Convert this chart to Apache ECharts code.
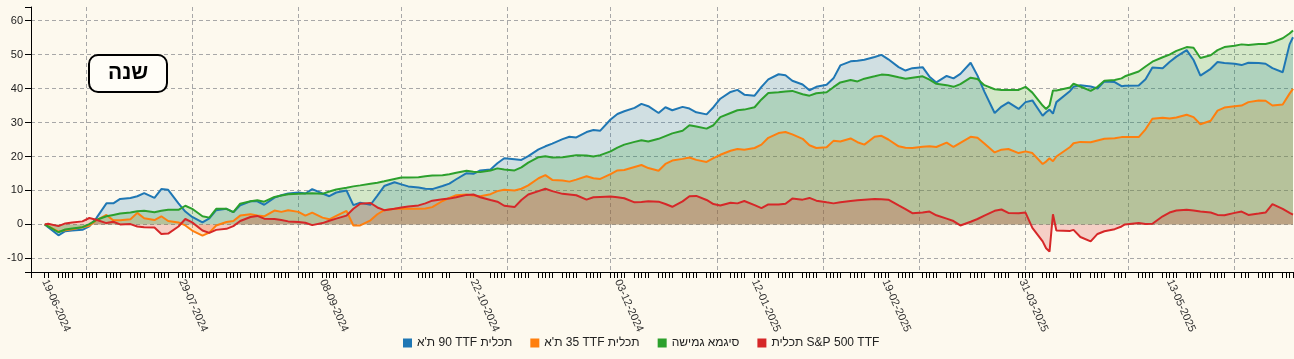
<!DOCTYPE html>
<html><head><meta charset="utf-8">
<script src="https://cdn.jsdelivr.net/npm/echarts@6/dist/echarts.min.js"></script>
<style>html,body{margin:0;padding:0;background:#fdf9ee}#c{width:1294px;height:359px}</style>
</head><body><div id="c"></div>
<script>
const dates = ['2024-06-19','2024-06-20','2024-06-23','2024-06-25','2024-06-27','2024-06-30','2024-07-02','2024-07-04','2024-07-07','2024-07-09','2024-07-11','2024-07-14','2024-07-16','2024-07-18','2024-07-21','2024-07-23','2024-07-25','2024-07-28','2024-07-30','2024-08-01','2024-08-04','2024-08-06','2024-08-08','2024-08-11','2024-08-13','2024-08-15','2024-08-18','2024-08-20','2024-08-22','2024-08-25','2024-08-27','2024-08-29','2024-09-01','2024-09-03','2024-09-05','2024-09-08','2024-09-10','2024-09-12','2024-09-15','2024-09-17','2024-09-19','2024-09-22','2024-09-24','2024-09-26','2024-09-29','2024-10-01','2024-10-03','2024-10-06','2024-10-08','2024-10-10','2024-10-13','2024-10-15','2024-10-17','2024-10-20','2024-10-22','2024-10-24','2024-10-27','2024-10-29','2024-10-31','2024-11-03','2024-11-05','2024-11-07','2024-11-10','2024-11-12','2024-11-14','2024-11-17','2024-11-19','2024-11-21','2024-11-24','2024-11-26','2024-11-28','2024-12-01','2024-12-03','2024-12-05','2024-12-08','2024-12-10','2024-12-12','2024-12-15','2024-12-17','2024-12-19','2024-12-22','2024-12-24','2024-12-26','2024-12-29','2024-12-31','2025-01-02','2025-01-05','2025-01-07','2025-01-09','2025-01-12','2025-01-14','2025-01-16','2025-01-19','2025-01-21','2025-01-23','2025-01-26','2025-01-28','2025-01-30','2025-02-02','2025-02-04','2025-02-06','2025-02-09','2025-02-11','2025-02-13','2025-02-16','2025-02-18','2025-02-20','2025-02-23','2025-02-25','2025-02-27','2025-03-02','2025-03-04','2025-03-06','2025-03-09','2025-03-11','2025-03-13','2025-03-16','2025-03-18','2025-03-20','2025-03-23','2025-03-25','2025-03-27','2025-03-30','2025-04-01','2025-04-03','2025-04-06','2025-04-07','2025-04-08','2025-04-09','2025-04-10','2025-04-14','2025-04-15','2025-04-17','2025-04-20','2025-04-22','2025-04-24','2025-04-27','2025-04-29','2025-04-30','2025-05-04','2025-05-06','2025-05-08','2025-05-11','2025-05-13','2025-05-15','2025-05-18','2025-05-20','2025-05-22','2025-05-25','2025-05-27','2025-05-29','2025-06-01','2025-06-03','2025-06-05','2025-06-08','2025-06-10','2025-06-12','2025-06-15','2025-06-17','2025-06-18'];

const ta90 = [0,-0.8,-3.2,-2.0,-1.8,-1.6,-0.6,1.8,6.2,6.2,7.5,7.8,8.3,9.2,7.8,10.4,10.2,6.2,3.8,2.2,0.6,1.8,4.2,4.6,3.6,5.6,6.8,6.8,5.8,7.9,8.6,9.1,9.4,9.1,10.4,9.1,8.3,9.4,10.0,5.7,6.4,5.8,8.5,11.3,12.4,11.8,11.2,10.9,10.5,10.4,11.3,12.0,13.3,15.1,14.9,15.9,16.2,18.0,19.5,19.2,19.0,20.1,22.1,23.0,23.8,25.1,25.8,25.6,27.2,27.8,27.6,30.9,32.5,33.3,34.3,35.5,34.8,32.8,34.5,33.6,34.6,34.1,33.0,32.4,34.5,37.0,39.0,39.6,38.2,37.9,40.5,42.7,44.2,43.9,42.3,41.2,39.5,40.5,41.1,43.0,46.8,48.0,48.2,48.5,49.3,49.9,48.6,46.3,45.3,46.0,46.3,43.5,41.8,43.7,43.0,44.3,47.6,43.8,39.1,32.8,34.7,35.9,34.0,36.0,36.5,32.0,33.0,33.8,32.6,36.0,39.3,40.5,41.0,40.6,40.0,42.1,41.9,40.7,40.8,40.9,42.7,46.2,46.0,47.8,49.4,51.3,48.4,43.8,45.8,47.8,47.5,47.3,46.9,47.6,47.5,47.3,46.0,44.8,53.0,55.1];

const ta35 = [0,-0.5,-2.1,-1.7,-1.4,-0.8,-0.4,1.2,2.8,1.2,1.2,1.5,3.4,1.8,1.3,2.4,1.0,0.6,-0.3,-1.8,-3.3,-2.4,-0.3,0.7,1.0,2.6,3.0,2.6,2.4,4.1,3.7,4.2,3.7,2.6,3.5,2.0,1.5,2.5,4.0,-0.3,-0.3,1.2,3.0,4.2,4.6,4.6,4.6,4.6,4.7,5.1,6.9,7.8,8.6,8.8,8.5,8.3,8.9,9.8,10.2,10.0,10.5,11.5,13.6,14.5,13.1,12.9,12.6,13.2,14.2,13.6,13.4,14.8,15.9,16.0,16.9,17.5,16.6,15.8,17.8,18.8,19.3,19.7,19.0,18.4,19.5,20.5,21.7,22.2,22.0,22.5,23.5,25.5,26.9,27.2,26.5,25.2,23.3,22.5,22.7,24.6,24.4,25.3,24.2,23.5,25.8,26.1,25.0,23.0,22.6,22.5,22.9,23.0,22.8,24.1,22.8,24.0,25.8,25.5,23.8,21.2,22.0,22.2,21.0,21.5,21.0,17.8,18.5,19.5,18.6,20.0,22.8,23.9,24.3,24.2,24.7,25.2,25.4,25.7,25.7,25.7,28.0,31.1,31.4,31.2,31.5,32.3,31.6,29.5,30.5,33.5,34.4,34.8,35.0,36.0,36.5,36.4,35.0,35.3,38.5,39.9];

const sigma = [0,-0.6,-2.3,-1.5,-1.2,-0.8,0.1,1.3,2.4,2.8,3.2,3.5,3.9,4.0,3.6,4.0,4.3,4.3,5.5,4.6,2.4,2.0,4.6,4.6,3.6,6.1,6.8,7.1,6.7,8.1,8.5,8.9,9.0,9.1,9.2,9.0,9.7,10.3,10.8,11.2,11.5,12.0,12.3,12.7,13.4,13.8,13.8,13.9,14.2,14.4,14.5,14.8,15.2,15.8,15.5,15.4,15.9,16.5,16.2,15.9,16.8,18.2,19.8,20.1,19.7,19.8,20.1,20.4,20.3,20.0,20.4,21.5,22.6,23.5,24.3,24.8,24.4,25.2,26.0,26.8,27.6,29.2,28.8,28.2,29.2,31.6,32.8,33.6,33.8,34.5,36.8,38.7,38.9,39.1,39.3,38.3,37.9,38.6,38.9,40.4,41.8,42.5,42.1,42.9,43.6,44.1,44.0,43.3,42.9,43.2,43.6,42.6,41.4,41.0,40.5,41.3,43.2,42.8,41.0,39.8,39.6,39.6,39.6,40.5,38.8,35.0,34.0,35.0,39.4,39.4,40.3,41.4,40.6,39.3,40.5,42.3,42.5,43.0,43.6,45.0,46.5,47.9,49.2,50.0,51.1,52.2,52.0,49.0,49.8,51.3,52.2,52.6,53.0,52.8,53.1,53.1,53.6,54.8,56.2,57.1];

const sp500 = [0,0.2,-0.5,0.3,0.6,0.9,1.9,1.4,0.4,0.8,0.0,0.1,-0.6,-0.8,-0.9,-2.8,-2.7,-0.6,1.6,0.6,-1.8,-2.5,-1.6,-1.3,-0.5,1.0,2.2,2.5,1.7,1.6,1.3,0.9,0.7,0.5,-0.2,0.4,1.1,1.7,2.6,4.6,6.1,6.3,5.0,4.2,4.6,5.0,5.3,5.6,6.2,7.0,7.4,7.6,8.0,8.7,8.8,8.0,7.2,6.7,5.5,5.1,7.2,8.8,9.8,10.5,9.8,9.0,8.8,8.6,7.3,8.0,8.1,8.2,8.0,7.7,6.5,6.6,6.8,6.7,6.0,5.2,6.8,8.3,8.4,7.2,6.0,5.6,6.4,6.2,6.9,5.7,4.8,5.9,5.9,6.1,7.6,7.3,7.8,7.0,6.5,6.2,6.5,6.9,7.1,7.3,7.5,7.4,7.3,5.6,4.5,3.3,3.5,3.8,2.7,1.7,1.0,-0.3,0.8,1.6,2.6,4.0,4.4,3.4,3.3,3.5,-1.0,-5.0,-7.0,-8.0,3.0,-1.8,-1.9,-1.6,-3.7,-5.0,-2.8,-2.0,-1.4,-0.6,0.0,0.4,0.1,0.2,2.4,3.5,4.1,4.3,4.1,3.8,3.5,2.8,2.7,3.4,3.8,2.8,3.2,3.5,6.0,4.6,3.4,2.9];

// legend names; mixed Hebrew/Latin names are written word by word in the order they appear left to right
const seriesNames = ["ת'א 90 TTF תכלית", "ת'א 35 TTF תכלית", "סיגמא גמישה", "תכלית S&P 500 TTF"];
const colors = ['#1f77b4', '#ff7f0e', '#2ca02c', '#d62728'];
const labelDates = ['2024-06-19','2024-07-29','2024-09-08','2024-10-22','2024-12-03','2025-01-12','2025-02-19','2025-03-31','2025-05-13'];
const monthStarts = ['2024-07-01','2024-08-01','2024-09-01','2024-10-01','2024-11-01','2024-12-01','2025-01-01','2025-02-01','2025-03-01','2025-04-01','2025-05-01','2025-06-01'];
const holidays = ['2024-10-02','2024-10-03','2024-10-16','2024-10-17','2024-10-23','2024-10-24','2025-04-13','2025-05-01','2025-06-02'];
const yLabels = [-10,0,10,20,30,40,50,60];
const yEnds = [-14,64];
const xMin = '2024-06-15', xMax = '2025-06-18';
const titleText = 'שנה';

const FONT = '"Liberation Sans", Arial, "DejaVu Sans", sans-serif';
function ts(s){const p=s.split('-').map(Number);return new Date(p[0],p[1]-1,p[2]).getTime();}
function pad(n){return (n<10?'0':'')+n;}
function fmt(v){const d=new Date(v);return pad(d.getDate())+'-'+pad(d.getMonth()+1)+'-'+d.getFullYear();}
function legendFmt(n){
  if (!/[A-Za-z0-9]/.test(n)) return n; // pure Hebrew: one right-to-left run
  return n.split(' ').map(w => '{t|' + w + '}').join('{t| }');
}

// trading-day ticks (Sun–Thu, minus holidays) from first data date to the axis end
const hol = new Set(holidays);
const tickVals = [ts(xMin)];
{
  const d = new Date(ts(dates[0]));
  const end = ts(xMax);
  while (d.getTime() <= end) {
    const s = d.getFullYear()+'-'+pad(d.getMonth()+1)+'-'+pad(d.getDate());
    if (d.getDay() <= 4 && !hol.has(s)) tickVals.push(d.getTime());
    d.setDate(d.getDate()+1);
  }
}

const seriesData = [ta90, ta35, sigma, sp500];
const chart = echarts.init(document.getElementById('c'), null, {renderer:'canvas'});
chart.setOption({
  animation:false,
  backgroundColor:'#fdf9ee',
  textStyle:{fontFamily:FONT},
  title:{
    text:titleText, left:89, top:55,
    padding:[8,19], borderWidth:2, borderColor:'#000', borderRadius:9,
    backgroundColor:'#fffdf7',
    textStyle:{fontSize:21, fontWeight:'bold', color:'#000', fontFamily:FONT}
  },
  legend:{
    data:seriesNames, left:403, top:337, padding:0, icon:'rect', itemWidth:9, itemHeight:9, itemGap:18,
    formatter: legendFmt,
    textStyle:{fontSize:12, color:'#222', fontFamily:FONT,
      rich:{t:{fontSize:12, color:'#222', fontFamily:FONT}}}
  },
  grid:{left:31, right:1, top:7, bottom:87, containLabel:false, outerBoundsMode:'none'},
  xAxis:[{
    type:'value', min:ts(xMin), max:ts(xMax), scale:true,
    axisLine:{show:true, onZero:false, lineStyle:{color:'#000', width:1}},
    axisTick:{show:true, length:6, customValues:tickVals, lineStyle:{color:'#000', width:1}},
    axisLabel:{show:true, customValues:labelDates.map(ts), rotate:-66, margin:8, fontSize:11, color:'#333', fontFamily:FONT, formatter:fmt, hideOverlap:false},
    splitLine:{show:false}
  },{
    type:'value', min:ts(xMin), max:ts(xMax), scale:true, position:'bottom',
    axisLine:{show:false, onZero:false}, axisTick:{show:false, customValues:monthStarts.map(ts)}, axisLabel:{show:false},
    splitLine:{show:true, lineStyle:{color:'#a8a8a8', width:1, type:[4,3]}}
  }],
  yAxis:[{
    type:'value', min:yEnds[0], max:yEnds[1],
    axisLine:{show:true, onZero:false, lineStyle:{color:'#000', width:1}},
    axisTick:{show:true, length:6, customValues:[yEnds[0]].concat(yLabels, [yEnds[1]]), lineStyle:{color:'#000'}},
    axisLabel:{customValues:yLabels, margin:8, fontSize:11, color:'#222', fontFamily:FONT},
    splitLine:{show:false}
  },{
    type:'value', min:yEnds[0], max:yEnds[1], position:'left',
    axisLine:{show:false, onZero:false}, axisTick:{show:false, customValues:yLabels}, axisLabel:{show:false},
    splitLine:{show:true, lineStyle:{color:'#a8a8a8', width:1, type:[4,3]}}
  }],
  series: seriesNames.map((n,i)=>({
    name:n, type:'line', xAxisIndex:0, yAxisIndex:0,
    data: dates.map((d,j)=>[ts(d), seriesData[i][j]]),
    symbol:'none', showSymbol:false, silent:true,
    itemStyle:{color:colors[i]},
    lineStyle:{color:colors[i], width:2},
    areaStyle:{color:colors[i], opacity:0.2}
  }))
});
</script></body></html>
